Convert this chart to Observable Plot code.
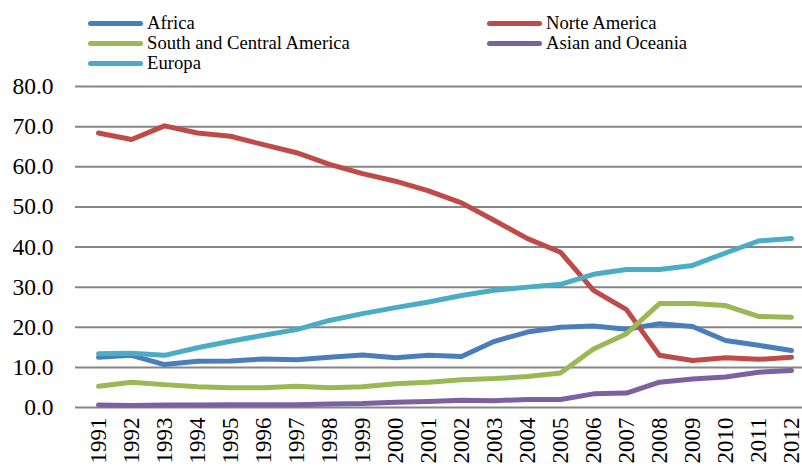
<!DOCTYPE html>
<html>
<head>
<meta charset="utf-8">
<script src="https://cdn.jsdelivr.net/npm/d3@7"></script>
<script src="https://cdn.jsdelivr.net/npm/@observablehq/plot@0.6"></script>
<style>
  html, body { margin: 0; padding: 0; background: #fff; overflow: hidden; }
  #wrap { position: relative; width: 802px; height: 466px; font-family: "Liberation Serif", "DejaVu Serif", serif; }
  #legend { position: relative; width: 802px; height: 70px; }
  .item { position: absolute; height: 20px; display: flex; align-items: center; font-size: 18.7px; color: #000; white-space: nowrap; }
  .swatch { display: inline-block; width: 55px; height: 5px; border-radius: 3px; margin-right: 4px; }
</style>
</head>
<body>
<div id="wrap">
  <div id="legend"></div>
  <div id="chart"></div>
</div>
<script>
const years = [1991,1992,1993,1994,1995,1996,1997,1998,1999,2000,2001,2002,2003,2004,2005,2006,2007,2008,2009,2010,2011,2012];
const seriesNames = ["Africa", "Norte America", "South and Central America", "Asian and Oceania", "Europa"];
const seriesColors = ["#4a7ebb", "#be4b48", "#98b954", "#7d60a0", "#4bacc6"];

const africa = [12.5,13.0,10.7,11.5,11.6,12.1,11.9,12.5,13.1,12.4,13.0,12.7,16.5,18.8,20.0,20.3,19.5,20.9,20.2,16.7,15.5,14.2];
const norteAmerica = [68.4,66.8,70.2,68.4,67.6,65.5,63.5,60.6,58.3,56.4,54.0,51.0,46.6,42.1,38.7,29.2,24.4,13.0,11.7,12.4,12.0,12.5];
const southCentral = [5.3,6.3,5.7,5.2,4.9,4.9,5.3,4.9,5.2,5.9,6.3,6.9,7.2,7.7,8.6,14.6,18.4,25.9,25.9,25.4,22.7,22.5];
const asianOceania = [0.6,0.5,0.6,0.6,0.7,0.7,0.7,0.9,1.0,1.3,1.5,1.8,1.7,2.0,2.0,3.4,3.6,6.3,7.1,7.6,8.8,9.2];
const europa = [13.4,13.5,13.0,14.9,16.5,18.0,19.4,21.7,23.4,24.9,26.3,27.9,29.2,30.0,30.7,33.2,34.4,34.4,35.4,38.5,41.5,42.1];
const yTicks = [0,10,20,30,40,50,60,70,80];

const seriesValues = [africa, norteAmerica, southCentral, asianOceania, europa];
const rows = [];
seriesNames.forEach((name, i) => {
  years.forEach((yr, j) => rows.push({series: name, year: yr, value: seriesValues[i][j]}));
});

// Legend (HTML, above the SVG)
const legendLayout = [
  {name: "Africa", left: 88, top: 13},
  {name: "South and Central America", left: 88, top: 33},
  {name: "Europa", left: 88, top: 53},
  {name: "Norte America", left: 487, top: 13},
  {name: "Asian and Oceania", left: 487, top: 33}
];
const legend = document.getElementById("legend");
legendLayout.forEach(it => {
  const d = document.createElement("div");
  d.className = "item";
  d.style.left = it.left + "px";
  d.style.top = it.top + "px";
  const sw = document.createElement("span");
  sw.className = "swatch";
  sw.style.background = seriesColors[seriesNames.indexOf(it.name)];
  const tx = document.createElement("span");
  tx.textContent = it.name;
  d.appendChild(sw);
  d.appendChild(tx);
  legend.appendChild(d);
});

const chart = Plot.plot({
  width: 802,
  height: 396,
  marginTop: 16,
  marginBottom: 59,
  marginLeft: 75,
  marginRight: 0,
  style: {fontFamily: "'Liberation Serif', 'DejaVu Serif', serif", background: "#fff"},
  x: {type: "point", domain: years, range: [92, 797], padding: 0},
  y: {domain: [0, 80]},
  color: {domain: seriesNames, range: seriesColors},
  marks: [
    Plot.ruleY(yTicks, {stroke: "#868686", strokeWidth: 2}),
    Plot.axisY(yTicks, {tickSize: 0, tickPadding: 22, tickFormat: d3.format(".1f"), fontSize: 23.5, label: null, fill: "#000"}),
    Plot.axisX({tickSize: 0, tickPadding: 10, tickRotate: -90, fontSize: 23, label: null, tickFormat: d => String(d), fill: "#000"}),
    Plot.lineY(rows, {x: "year", y: "value", z: "series", stroke: "series", strokeWidth: 5, strokeLinecap: "round", strokeLinejoin: "round"})
  ]
});
document.getElementById("chart").appendChild(chart);
</script>
</body>
</html>
